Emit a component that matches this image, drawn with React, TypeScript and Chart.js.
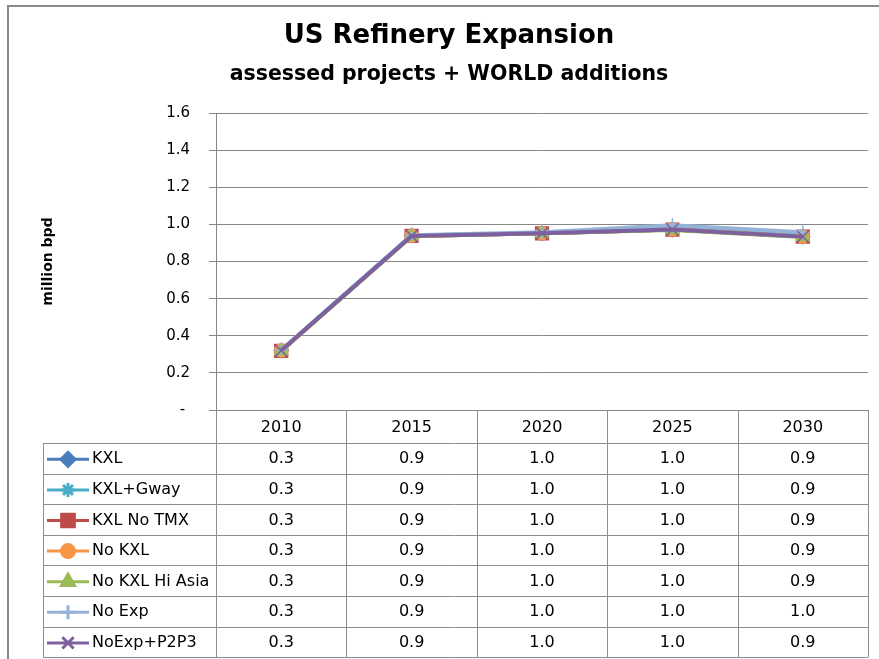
import React, { useEffect, useRef } from 'react';
import { Chart, registerables } from 'chart.js';
import { drawPoint } from 'chart.js/helpers';

Chart.register(...registerables);

const categories = ['2010', '2015', '2020', '2025', '2030'];
const seriesNames = ['KXL', 'KXL+Gway', 'KXL No TMX', 'No KXL', 'No KXL Hi Asia', 'No Exp', 'NoExp+P2P3'];
const kxl = [0.32, 0.94, 0.952, 0.972, 0.934];
const kxlGway = [0.32, 0.94, 0.952, 0.978, 0.94];
const kxlNoTmx = [0.318, 0.938, 0.952, 0.972, 0.934];
const noKxl = [0.32, 0.938, 0.952, 0.972, 0.934];
const noKxlHiAsia = [0.318, 0.936, 0.952, 0.97, 0.932];
const noExp = [0.322, 0.942, 0.958, 0.995, 0.958];
const noExpP2P3 = [0.32, 0.938, 0.952, 0.972, 0.934];
const seriesValues = [kxl, kxlGway, kxlNoTmx, noKxl, noKxlHiAsia, noExp, noExpP2P3];

const colors = ['#4A7EBB', '#4BACC6', '#BE4B48', '#F79646', '#9BBB59', '#95B3D7', '#7D60A0'];
const markers = ['rectRot', 'star', 'rect', 'circle', 'triangle', 'cross', 'crossRot'];
const markerRadius = [7, 7, 9, 6.5, 7.5, 7, 8];

const yMin = 0;
const yMax = 1.6;
const yStep = 0.2;

const titleText = 'US Refinery Expansion';
const subtitleText = 'assessed projects + WORLD additions';
const yAxisTitle = 'million bpd';

const FONT = "'DejaVu Sans', sans-serif";
const GRID = '#878787';
const TABLE_LINE = '#8e8e8e';

const framePlugin = {
  id: 'frame',
  beforeDraw(chart: any) {
    const ctx = chart.ctx;
    ctx.save();
    ctx.fillStyle = '#fff';
    ctx.fillRect(0, 0, chart.width, chart.height);
    ctx.strokeStyle = '#8a8a8a';
    ctx.lineWidth = 2;
    ctx.beginPath();
    ctx.moveTo(8, chart.height);
    ctx.lineTo(8, 6);
    ctx.lineTo(chart.width, 6);
    ctx.stroke();
    ctx.fillStyle = '#000';
    ctx.textAlign = 'center';
    ctx.textBaseline = 'alphabetic';
    ctx.font = `bold 26px ${FONT}`;
    ctx.fillText(titleText, 449, 43);
    ctx.font = `bold 20.5px ${FONT}`;
    ctx.fillText(subtitleText, 449, 80);
    ctx.restore();
  },
};

const tablePlugin = {
  id: 'dataTable',
  afterDraw(chart: any) {
    const ctx = chart.ctx;
    const { left, right, bottom } = chart.chartArea;
    const xs = chart.scales.x;
    const n = categories.length;
    const colW = (right - left) / n;
    const headerBottom = bottom + 33;
    const rowH = 30.6;
    const tableBottom = headerBottom + rowH * seriesNames.length;
    const legendLeft = 43;
    const snap = (v: number) => Math.round(v) + 0.5;

    ctx.save();
    ctx.strokeStyle = TABLE_LINE;
    ctx.lineWidth = 1;
    ctx.beginPath();
    for (let k = 0; k <= n; k++) {
      const x = snap(left + k * colW);
      ctx.moveTo(x, bottom);
      ctx.lineTo(x, tableBottom);
    }
    for (let r = 0; r <= seriesNames.length; r++) {
      const y = snap(headerBottom + r * rowH);
      ctx.moveTo(legendLeft, y);
      ctx.lineTo(right, y);
    }
    ctx.moveTo(snap(legendLeft), snap(headerBottom));
    ctx.lineTo(snap(legendLeft), snap(tableBottom));
    ctx.stroke();

    ctx.fillStyle = '#000';
    ctx.font = `16px ${FONT}`;
    ctx.textAlign = 'center';
    ctx.textBaseline = 'middle';
    categories.forEach((c, i) => {
      const cx = xs.getPixelForValue(i);
      ctx.fillText(c, cx, (bottom + headerBottom) / 2 + 1);
    });

    seriesNames.forEach((name, r) => {
      const cy = headerBottom + r * rowH + rowH / 2 + 1;
      ctx.strokeStyle = colors[r];
      ctx.lineWidth = 3;
      ctx.beginPath();
      ctx.moveTo(47, cy);
      ctx.lineTo(89, cy);
      ctx.stroke();
      ctx.fillStyle = colors[r];
      ctx.strokeStyle = colors[r];
      drawPoint(ctx, { pointStyle: markers[r], radius: markerRadius[r], rotation: 0, borderWidth: 1.5 } as any, 68, cy);
      ctx.fillStyle = '#000';
      ctx.textAlign = 'left';
      ctx.fillText(name, 92, cy);
      ctx.textAlign = 'center';
      seriesValues[r].forEach((v, i) => {
        ctx.fillText(v.toFixed(1), xs.getPixelForValue(i), cy);
      });
    });
    ctx.restore();
  },
};

export default function App() {
  const ref = useRef<HTMLCanvasElement>(null);
  useEffect(() => {
    document.body.style.margin = '0';
    const datasets = seriesNames.map((name, i) => ({
      label: name,
      data: seriesValues[i],
      borderColor: colors[i],
      backgroundColor: colors[i],
      borderWidth: 4,
      pointStyle: markers[i] as any,
      pointRadius: markerRadius[i],
      pointHoverRadius: markerRadius[i],
      pointBackgroundColor: colors[i],
      pointBorderColor: colors[i],
      pointBorderWidth: 1.5,
      order: seriesNames.length - 1 - i,
      tension: 0,
    }));
    const chart = new Chart(ref.current!, {
      type: 'line',
      data: { labels: categories, datasets },
      options: {
        responsive: false,
        animation: false,
        devicePixelRatio: 1,
        layout: { padding: { left: 0, right: 11, top: 113, bottom: 241 } },
        plugins: {
          legend: { display: false },
          tooltip: { enabled: false },
          title: { display: false },
        },
        scales: {
          x: {
            offset: true,
            grid: { display: false },
            ticks: { display: false },
            border: { display: true, color: GRID, width: 1 },
          },
          y: {
            min: yMin,
            max: yMax,
            ticks: {
              stepSize: yStep,
              padding: 19,
              color: '#000',
              font: { family: FONT, size: 15 },
              callback: (v: any) => (Number(v) === 0 ? '- ' : Number(v).toFixed(1)),
            },
            grid: { color: GRID, lineWidth: 1, tickLength: 7 },
            border: { display: true, color: GRID, width: 1 },
            title: {
              display: true,
              text: yAxisTitle,
              color: '#000',
              font: { family: FONT, size: 14, weight: 'bold' },
              padding: { top: 40, bottom: 0 },
            },
            afterFit: (s: any) => {
              s.width = 216;
            },
          },
        },
      },
      plugins: [framePlugin, tablePlugin],
    } as any);
    return () => chart.destroy();
  }, []);
  return (
    <div style={{ width: 879, height: 659 }}>
      <canvas ref={ref} width={879} height={659} style={{ display: 'block' }} />
    </div>
  );
}
